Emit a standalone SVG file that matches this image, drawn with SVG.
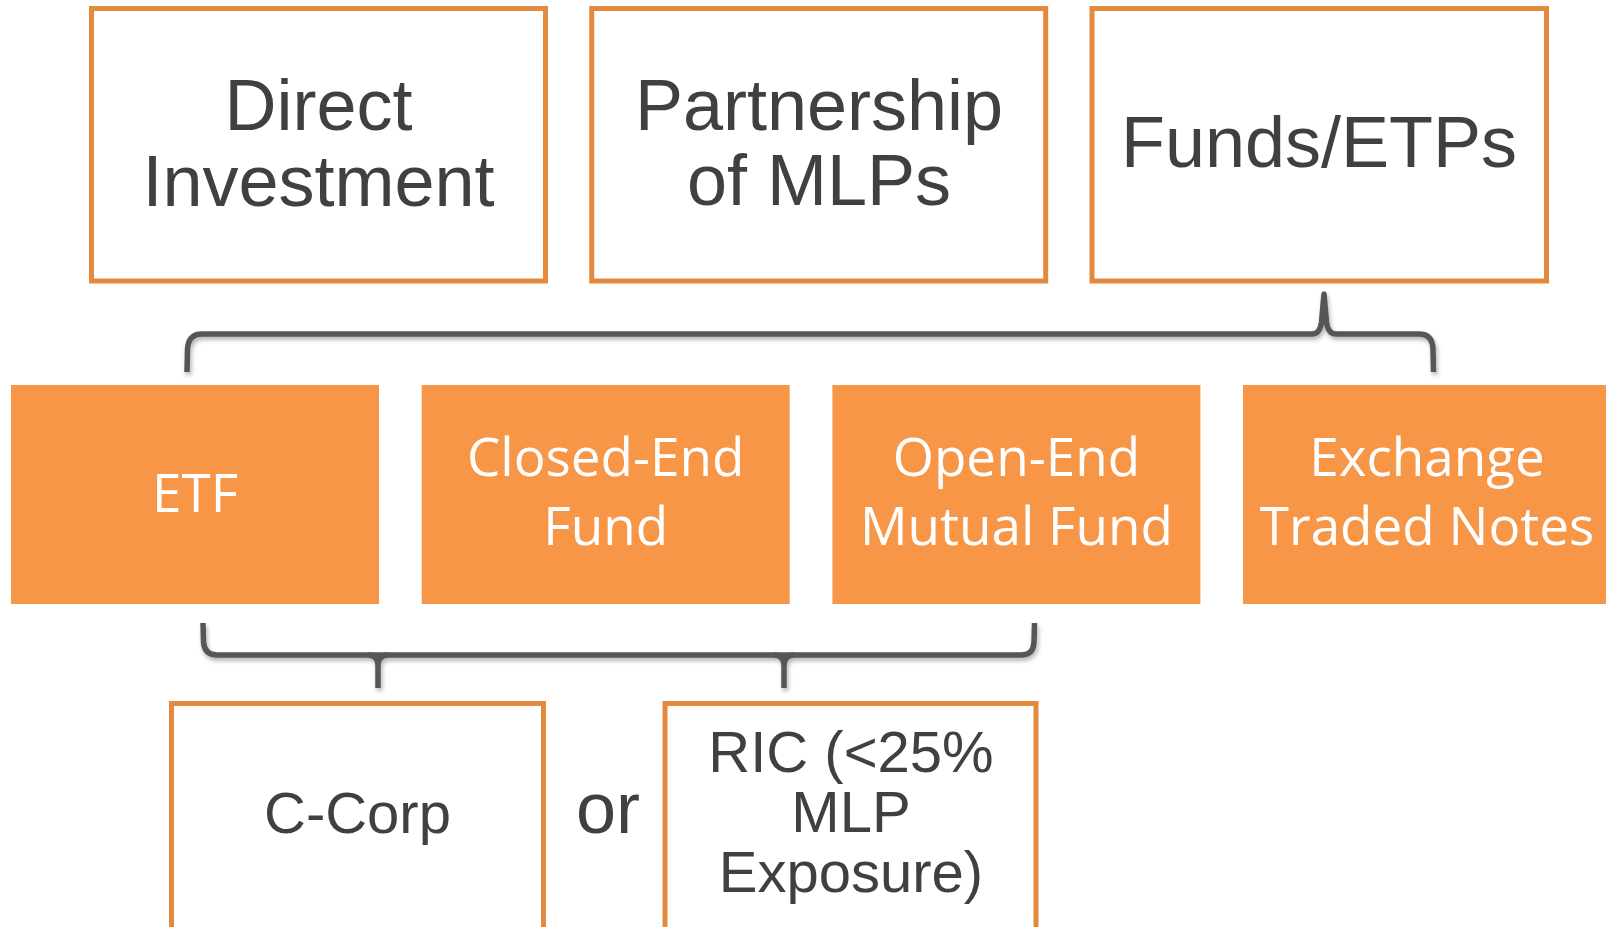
<svg xmlns="http://www.w3.org/2000/svg" width="1606" height="927" viewBox="0 0 1606 927">
<defs>
<style>
.ob{fill:#ffffff;stroke:#E48A3F;stroke-width:5}
.fb{fill:#F79646}
.t1{font-family:"Liberation Sans",Arial,sans-serif;fill:#404040;text-anchor:middle}
.t2{font-family:"Open Sans","Noto Sans",sans-serif;fill:#ffffff;text-anchor:middle;font-size:53px}
.br{fill:none;stroke:#575757;stroke-width:5.5;stroke-linecap:butt;stroke-linejoin:round}
</style>
<filter id="sh" x="-5%" y="-30%" width="110%" height="170%">
<feDropShadow dx="1.5" dy="3" stdDeviation="2" flood-color="#000" flood-opacity="0.3"/>
</filter>
</defs>
<rect width="1606" height="927" fill="#ffffff"/>

<g id="direct-investment">
<rect class="ob" x="91.5" y="8.5" width="454" height="272.5"/>
<text class="t1" font-size="72" x="318.5" y="130">Direct</text>
<text class="t1" font-size="72" x="318.5" y="206">Investment</text>
</g>
<g id="partnership-of-mlps">
<rect class="ob" x="591.7" y="8.5" width="454" height="272.5"/>
<text class="t1" font-size="72" x="819" y="130">Partnership</text>
<text class="t1" font-size="72" x="819" y="205">of MLPs</text>
</g>
<g id="funds-etps">
<rect class="ob" x="1092" y="8.5" width="454.5" height="272.5"/>
<text class="t1" font-size="72" x="1319" y="167">Funds/ETPs</text>
</g>

<g id="etf">
<rect class="fb" x="11" y="385" width="368" height="219"/>
<text class="t2" x="195" y="511.5">ETF</text>
</g>
<g id="closed-end-fund">
<rect class="fb" x="421.7" y="385" width="368" height="219"/>
<text class="t2" x="605.7" y="476">Closed-End</text>
<text class="t2" x="605.7" y="545">Fund</text>
</g>
<g id="open-end-mutual-fund">
<rect class="fb" x="832.4" y="385" width="368" height="219"/>
<text class="t2" x="1016.4" y="476">Open-End</text>
<text class="t2" x="1016.4" y="545">Mutual Fund</text>
</g>
<g id="exchange-traded-notes">
<rect class="fb" x="1243" y="385" width="368" height="219"/>
<text class="t2" x="1427" y="476">Exchange</text>
<text class="t2" x="1427" y="545">Traded Notes</text>
</g>

<g id="c-corp">
<rect class="ob" x="171.5" y="703.5" width="372" height="300"/>
<text class="t1" font-size="58" x="357.5" y="833">C-Corp</text>
</g>
<g id="or-label">
<text class="t1" font-size="72" x="608" y="833">or</text>
</g>
<g id="ric">
<rect class="ob" x="665" y="703.5" width="371" height="300"/>
<text class="t1" font-size="58" x="851" y="772">RIC (&lt;25%</text>
<text class="t1" font-size="58" x="851" y="832">MLP</text>
<text class="t1" font-size="58" x="851" y="892">Exposure)</text>
</g>

<g id="connectors" filter="url(#sh)">
<path class="br" d="M187,372 L187.5,349 Q188.5,334 202,334 L1312,334 Q1320,334 1321.5,322 L1324,294 L1326.5,322 Q1328,334 1336,334 L1419,334 Q1432.5,334 1433,349 L1433.5,372"/>
<path class="br" d="M203,623 L203.5,642 Q204.5,655 217,655 L1021,655 Q1033.5,655 1034,642 L1034.5,623"/>
<path class="br" d="M368,655 Q378,655.5 378,665 L378,688 M388,655 Q378,655.5 378,665"/>
<path class="br" d="M774,655 Q784,655.5 784,665 L784,688 M794,655 Q784,655.5 784,665"/>
</g>
</svg>
